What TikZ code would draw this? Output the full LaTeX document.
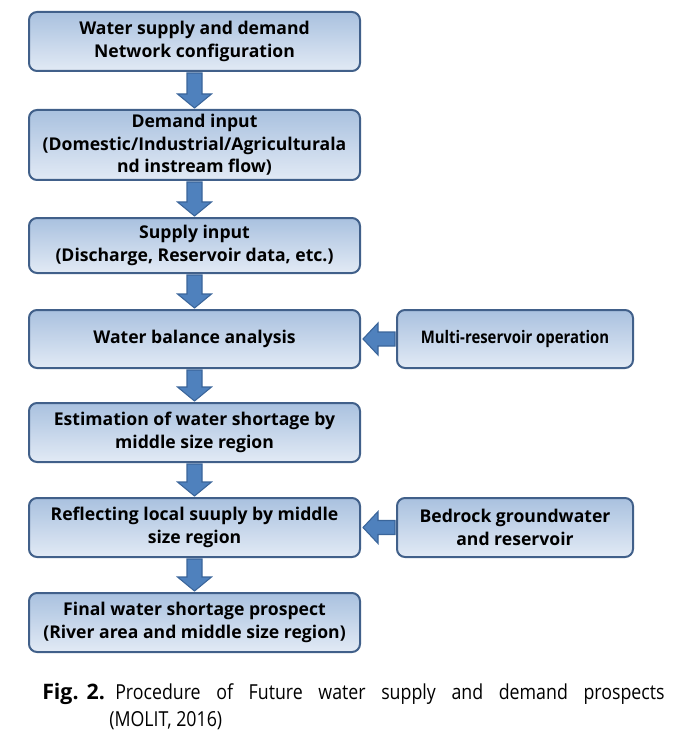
\documentclass[tikz,border=0pt]{standalone}
\usepackage{fontspec}
\setmainfont{Open Sans}
\newfontfamily\capfont{Open Sans}[FakeStretch=0.86]
\newfontfamily\narrowbold{Open Sans}[FakeStretch=0.86]
\usetikzlibrary{calc}
\definecolor{boxtop}{HTML}{A9C1DF}
\definecolor{boxbot}{HTML}{E2EAF5}
\definecolor{boxline}{HTML}{41608A}
\definecolor{arrfill}{HTML}{4F81BD}
\definecolor{arrline}{HTML}{3A659A}
\newcommand\vblk[2]{%
  \draw[blockarrow] ($(#1.south)+(-7.5,1)$) -- ($(#2.north)+(-7.5,-15)$) -- ($(#2.north)+(-17,-15)$) -- ($(#2.north)+(0,-1)$) -- ($(#2.north)+(17,-15)$) -- ($(#2.north)+(7.5,-15)$) -- ($(#1.south)+(7.5,1)$) -- cycle;}
\newcommand\hblk[2]{%
  \draw[blockarrow] ($(#1.west)+(-1,-7)$) -- ($(#2.east)+(17,-7)$) -- ($(#2.east)+(17,-16)$) -- ($(#2.east)+(2,0)$) -- ($(#2.east)+(17,16)$) -- ($(#2.east)+(17,7)$) -- ($(#1.west)+(-1,7)$) -- cycle;}
\begin{document}
\begin{tikzpicture}[x=0.75pt,y=-0.75pt,
  flowbox/.style={draw=boxline, line width=1.5pt, rounded corners=6pt,
    top color=boxtop, bottom color=boxbot, align=center, inner sep=0pt,
    font=\bfseries\fontsize{13.2}{17}\selectfont},
  mainbox/.style={flowbox, minimum width=248.25pt},
  sidebox/.style={flowbox, minimum width=177pt},
  captext/.style={anchor=base west, inner sep=0pt, font=\capfont\fontsize{15.5}{21}\selectfont},
  blockarrow/.style={fill=arrfill, draw=arrline, line width=0.8pt, line join=miter}]
\useasboundingbox (0,0) rectangle (673,734);
\node[mainbox, minimum height=44.25pt] (b1) at (194.5,41.5) {Water supply and demand\\Network configuration};
\node[mainbox, minimum height=52.5pt] (b2) at (194.5,145) {Demand input\\(Domestic/Industrial/Agriculturala\\nd instream flow)};
\node[mainbox, minimum height=41.25pt] (b3) at (194.5,245.5) {Supply input\\(Discharge, Reservoir data, etc.)};
\node[mainbox, minimum height=43.5pt] (b4) at (194.5,339) {Water balance analysis};
\node[sidebox, minimum height=43.5pt, font=\narrowbold\bfseries\fontsize{13}{17}\selectfont] (r4) at (515,339) {Multi-reservoir operation};
\node[mainbox, minimum height=44.25pt] (b5) at (194.5,432.5) {Estimation of water shortage by\\middle size region};
\node[mainbox, minimum height=44.25pt] (b6) at (194.5,527.5) {Reflecting local suuply by middle\\size region};
\node[sidebox, minimum height=44.25pt] (r6) at (515,527.5) {Bedrock groundwater\\and reservoir};
\node[mainbox, minimum height=44.25pt] (b7) at (194.5,622.5) {Final water shortage prospect\\(River area and middle size region)};
\vblk{b1}{b2}
\vblk{b2}{b3}
\vblk{b3}{b4}
\vblk{b4}{b5}
\vblk{b5}{b6}
\vblk{b6}{b7}
\hblk{r4}{b4}
\hblk{r6}{b6}
\node[anchor=base west, inner sep=0pt, font=\bfseries\fontsize{16}{21}\selectfont] (cap1) at (42,699) {Fig.\hspace{6pt}2.};
\node[captext] (cap2) at (115,699) {\makebox[412pt][s]{Procedure of Future water supply and demand prospects}};
\node[captext] (cap3) at (109,726) {(MOLIT, 2016)};
\end{tikzpicture}
\end{document}
